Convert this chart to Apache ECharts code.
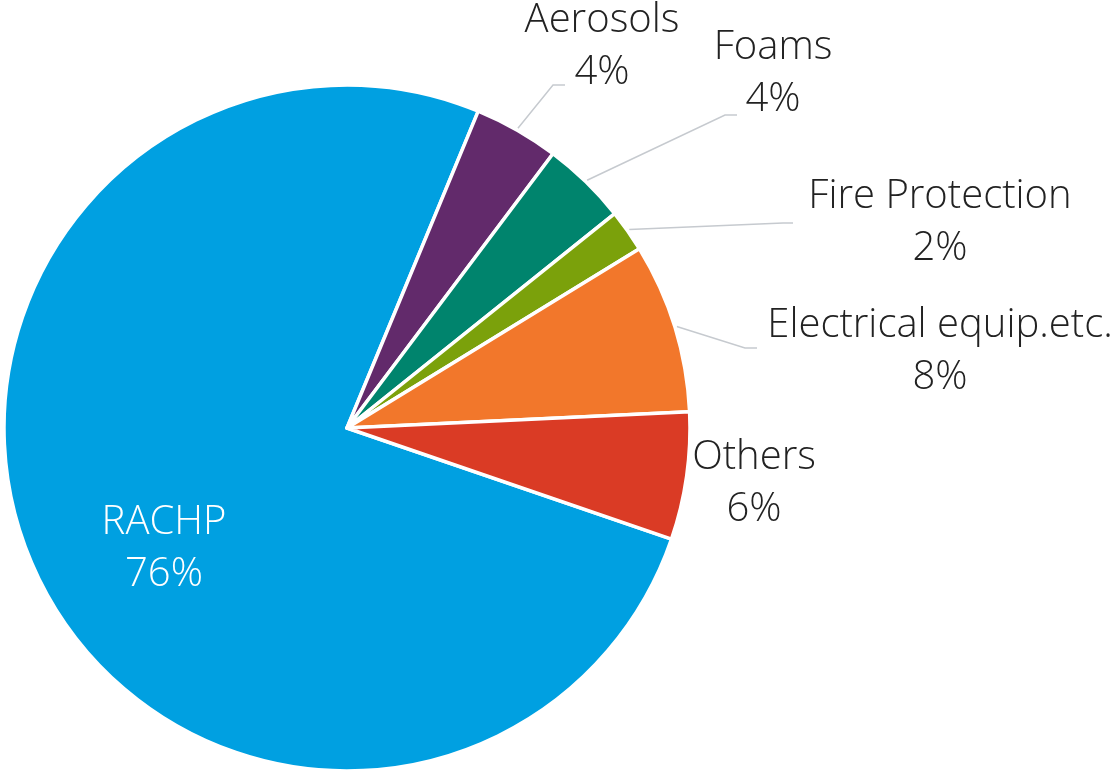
<!DOCTYPE html>
<html>
<head>
<meta charset="utf-8">
<title>F-gas use by sector</title>
<script src="https://cdn.jsdelivr.net/npm/echarts@6/dist/echarts.min.js"></script>
<style>
  html, body { margin: 0; padding: 0; background: #ffffff; }
  #chart { width: 1113px; height: 770px; }
</style>
</head>
<body>
<div id="chart"></div>
<script>
// Sectors and their shares (%)
const sectors = ['RACHP', 'Aerosols', 'Foams', 'Fire Protection', 'Electrical equip.etc.', 'Others'];
const shares = [76, 4, 4, 2, 8, 6];
const sectorColors = ['#00A0E1', '#622A6B', '#00846D', '#7BA10B', '#F2772B', '#DA3B25'];

// Pie geometry
const CX = 347, CY = 428, R = 343;
const START_ANGLE = 341.1; // degrees, counter-clockwise from 3 o'clock

// Label placement: text block centre, plus the bend and end of the leader line
const labelPlacement = [
  { x: 164, y: 549, color: '#ffffff', line: null },
  { x: 602, y: 47, color: '#222222', line: [[553, 85], [565, 85]] },
  { x: 773, y: 74, color: '#222222', line: [[725, 115], [737, 115]] },
  { x: 940, y: 223, color: '#222222', line: [[783, 223], [793, 223]] },
  { x: 940, y: 352, color: '#222222', line: [[745, 348], [757, 348]] },
  { x: 754, y: 484, color: '#222222', line: null }
];

// Mid-angle of each slice (radians, screen coords, clockwise from 3 o'clock)
const total = shares.reduce((a, b) => a + b, 0);
const midAngles = [];
let acc = 0;
shares.forEach(v => {
  const a = (-START_ANGLE + (acc + v / 2) / total * 360) * Math.PI / 180;
  midAngles.push(a);
  acc += v;
});

const chart = echarts.init(document.getElementById('chart'), null, { renderer: 'canvas' });

chart.setOption({
  animation: false,
  series: [{
    type: 'pie',
    center: [CX, CY],
    radius: [0, R],
    startAngle: START_ANGLE,
    clockwise: true,
    avoidLabelOverlap: false,
    data: sectors.map((name, i) => ({
      name: name,
      value: shares[i],
      itemStyle: { color: sectorColors[i] },
      label: { color: labelPlacement[i].color },
      labelLine: { show: !!labelPlacement[i].line }
    })),
    itemStyle: { borderColor: '#ffffff', borderWidth: 3.5 },
    label: {
      show: true,
      position: 'outside',
      formatter: '{b}\n{c}%',
      fontFamily: 'Open Sans',
      fontWeight: 300,
      fontSize: 40,
      lineHeight: 52,
      align: 'center'
    },
    labelLine: {
      show: true,
      lineStyle: { color: '#c6cacf', width: 1.5 }
    },
    labelLayout: function (params) {
      const p = labelPlacement[params.dataIndex];
      const out = { x: p.x, y: p.y, align: 'center', verticalAlign: 'middle' };
      if (p.line) {
        const a = midAngles[params.dataIndex];
        const start = [CX + (R + 2) * Math.cos(a), CY + (R + 2) * Math.sin(a)];
        out.labelLinePoints = [start, p.line[0], p.line[1]];
      }
      return out;
    }
  }]
});
</script>
</body>
</html>
